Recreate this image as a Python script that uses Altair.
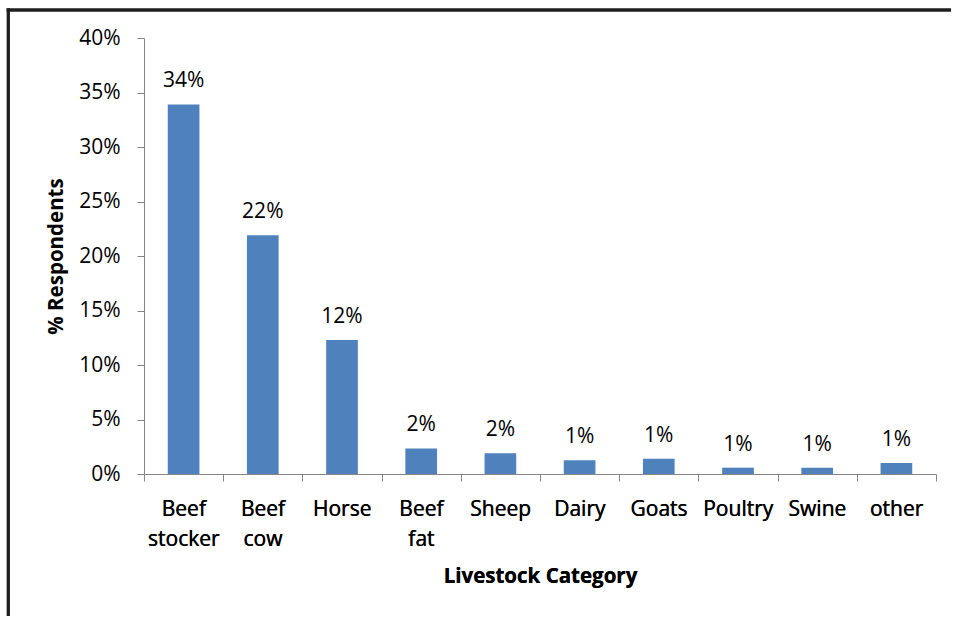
import altair as alt
import pandas as pd

categories = ["Beef stocker", "Beef cow", "Horse", "Beef fat", "Sheep",
              "Dairy", "Goats", "Poultry", "Swine", "other"]
values = [0.339, 0.219, 0.123, 0.0235, 0.019, 0.0126, 0.014, 0.0058, 0.0058, 0.010]
y_ticks = [0.0, 0.05, 0.10, 0.15, 0.20, 0.25, 0.30, 0.35, 0.40]
boundary_ticks = list(range(len(categories) + 1))

df = pd.DataFrame({"category": categories, "value": values})

W, H = 792, 436
PAD_L, PAD_T, PAD_R, PAD_B = 144, 38, 17, 144
FONT = "Open Sans"
GRAY = "#868686"
BAR = "#4F81BD"
FRAME = "#1e1e1e"

x_band = alt.X(
    "category:N",
    sort=categories,
    scale=alt.Scale(paddingInner=0.6, paddingOuter=0.3),
    axis=alt.Axis(
        orient="bottom",
        title="Livestock Category",
        labelAngle=0,
        labelExpr="split(datum.label, ' ')",
        labelLineHeight=30,
        labelPadding=24,
        labelBaseline="top",
        ticks=False,
        tickSize=0,
        domain=False,
        titleX=W / 2,
        titleY=102,
        titleBaseline="middle",
    ),
)

y_enc = alt.Y(
    "value:Q",
    scale=alt.Scale(domain=[0, 0.4], nice=False),
    axis=alt.Axis(
        format=".0%",
        values=y_ticks,
        grid=False,
        tickSize=7,
        tickColor=GRAY,
        domainColor=GRAY,
        labelPadding=17,
        title="% Respondents",
        titleX=-88,
        titleY=H / 2,
        titleBaseline="middle",
    ),
)

bars = alt.Chart(df).mark_bar(color=BAR).encode(x=x_band, y=y_enc)

labels = alt.Chart(df).mark_text(
    dy=-17, baseline="alphabetic", fontSize=21, font=FONT, color="black"
).encode(x=x_band, y=y_enc, text=alt.Text("value:Q", format=".0%"))

ticks = alt.Chart(df).transform_calculate(z="0").mark_point(opacity=0).encode(
    x=alt.X(
        "z:Q",
        scale=alt.Scale(domain=[0, len(categories)], nice=False, zero=False),
        axis=alt.Axis(
            orient="bottom",
            values=boundary_ticks,
            labels=False,
            title=None,
            grid=False,
            tickSize=7,
            tickColor=GRAY,
            domainColor=GRAY,
        ),
    )
)

# figure frame (only top and left edges are visible in the reference)
frame_left = alt.Chart(alt.Data(values=[{}])).mark_rule(
    stroke=FRAME, strokeWidth=3.3
).encode(x=alt.value(-135.7), y=alt.value(-29.65), y2=alt.value(H + PAD_B - 2))

frame_top = alt.Chart(alt.Data(values=[{}])).mark_rule(
    stroke=FRAME, strokeWidth=3.3
).encode(y=alt.value(-28), x=alt.value(-137.35), x2=alt.value(W + PAD_R - 2))

chart = alt.layer(bars, labels, ticks, frame_left, frame_top).resolve_scale(
    x="independent"
).properties(
    width=W,
    height=H,
    padding={"left": PAD_L, "top": PAD_T, "right": PAD_R, "bottom": PAD_B},
    autosize=alt.AutoSizeParams(type="none"),
    background="white",
).configure_view(strokeWidth=0).configure_axis(
    labelFont=FONT, labelFontSize=21, labelColor="black",
    titleFont=FONT, titleFontSize=20.5, titleFontWeight="bold", titleColor="black",
)

chart.save("out.html", embed_options={"renderer": "svg", "actions": False})
